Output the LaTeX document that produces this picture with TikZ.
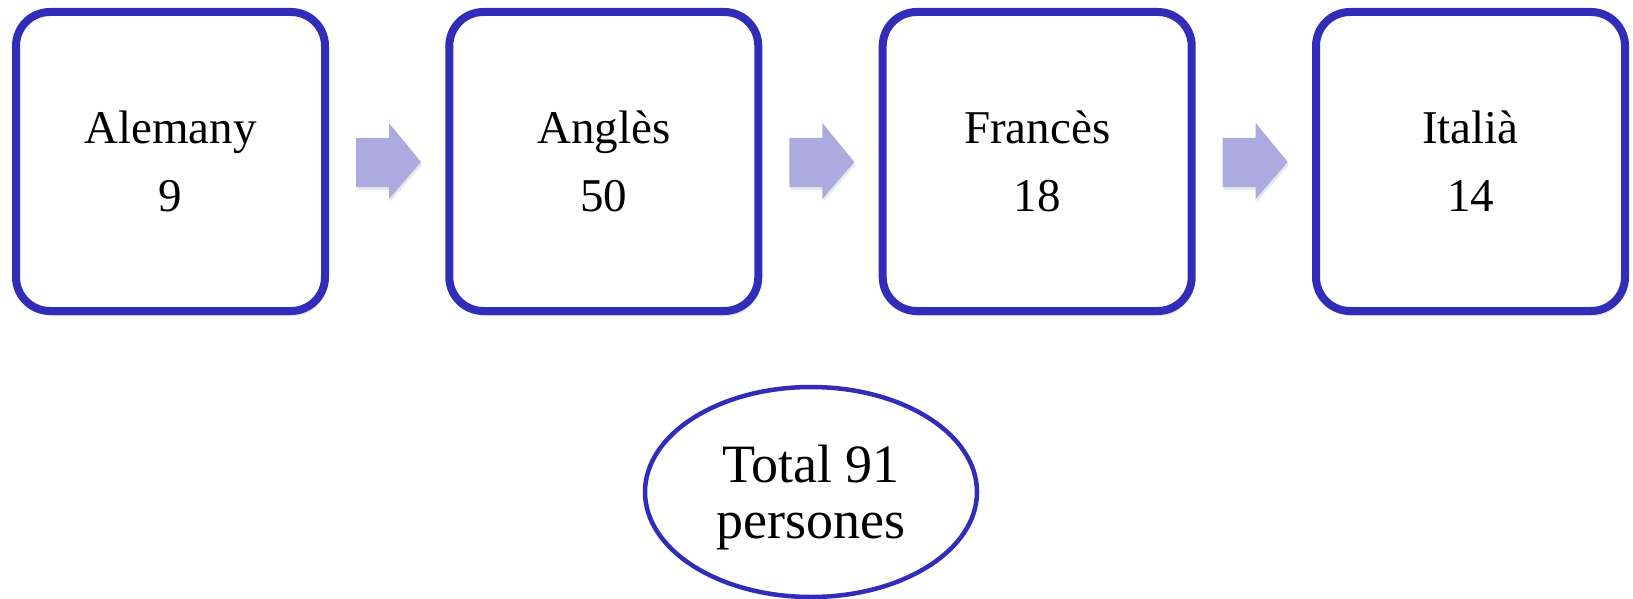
\documentclass[tikz,border=0pt]{standalone}
\usepackage{fontspec}
\setmainfont{Liberation Serif}
\usetikzlibrary{shapes.geometric,shadows}
\definecolor{bordblue}{RGB}{50,45,185}
\definecolor{arrowfill}{RGB}{171,171,224}
\tikzset{
  langbox/.style={draw=bordblue, line width=8pt, rounded corners=34pt, fill=white,
    minimum width=309pt, minimum height=299pt, inner sep=0pt, align=center,
    font=\fontsize{47pt}{68pt}\selectfont,
    drop shadow={opacity=0.22, shadow xshift=2pt, shadow yshift=-5pt}},
  totalell/.style={draw=bordblue, line width=4.5pt, ellipse, fill=white,
    minimum width=332pt, minimum height=210pt, inner sep=0pt, align=center,
    text depth=0pt, font=\fontsize{54pt}{56pt}\selectfont},
  flowarrow/.style={fill=arrowfill,
    drop shadow={opacity=0.18, shadow xshift=1pt, shadow yshift=-3pt}}
}
\begin{document}
\begin{tikzpicture}[x=1pt,y=-1pt]
\useasboundingbox (0,0) rectangle (1633,599);
\node[langbox] (b1) at (170.5,161.5) {Alemany\\9};
\node[langbox] (b2) at (603.8,161.5) {Anglès\\50};
\node[langbox] (b3) at (1037.2,161.5) {Francès\\18};
\node[langbox] (b4) at (1470.5,161.5) {Italià\\14};
\node[totalell] (tot) at (811,492) {Total 91\\persones};
\foreach \a in {b1,b2,b3}{
  \path[flowarrow] ([xshift=27pt,yshift=23.5pt]\a.east) -- ++(33,0) -- ++(0,-15)
    -- ++(32,39) -- ++(-32,37) -- ++(0,-12) -- ++(-33,0) -- cycle;
}
\end{tikzpicture}
\end{document}
